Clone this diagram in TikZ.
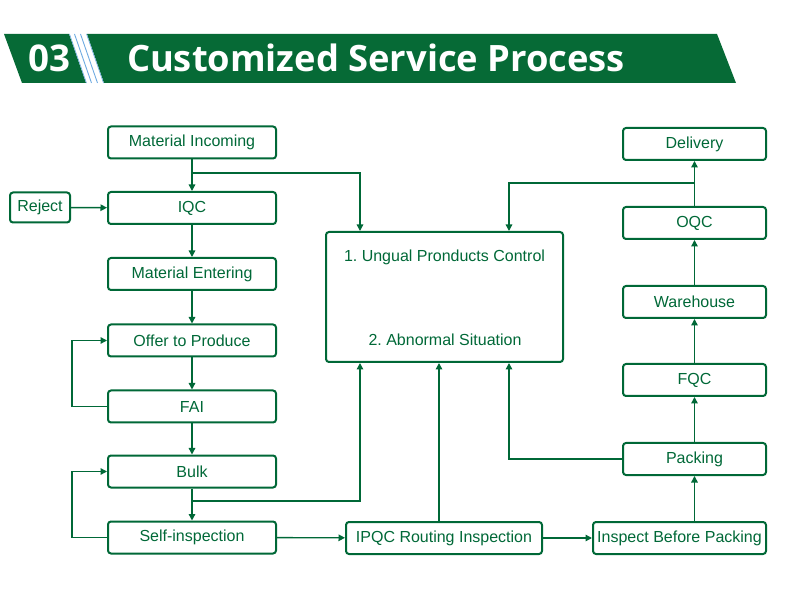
\documentclass[tikz,border=0pt]{standalone}
\usepackage{fontspec}
\setmainfont{Liberation Sans}
\newfontfamily\titlefont{Open Sans}
\usetikzlibrary{arrows.meta,calc}
\definecolor{dg}{RGB}{0,104,55}
\definecolor{bg}{RGB}{6,106,54}
\definecolor{lb}{RGB}{110,170,225}
\tikzset{
  box/.style={draw=dg, line width=2pt, rounded corners=3pt, inner sep=0pt, text=dg,
    font=\fontsize{16}{19}\selectfont\frenchspacing, minimum height=32pt},
  lbox/.style={box, minimum width=168pt},
  rbox/.style={box, minimum width=143pt},
  ln/.style={draw=dg, line width=1.4pt},
  arr/.style={ln, -{Triangle[length=6.5pt,width=6.5pt]}},
}
\begin{document}
\begin{tikzpicture}[x=1pt,y=-1pt]
\useasboundingbox (0,0) rectangle (790,609);
% banner
\fill[bg] (4,34) -- (69,34) -- (86,83) -- (22,83) -- cycle;
\fill[bg] (87,34) -- (717,34) -- (736,83) -- (104,83) -- cycle;
\draw[lb, line width=0.9pt] (74.5,34) -- (91.5,83);
\draw[lb, line width=0.9pt] (80.5,34) -- (97.5,83);
\draw[lb, line width=0.6pt] (69.5,34) -- (86.5,83);
\draw[lb, line width=0.6pt] (86.5,34) -- (103.5,83);
\node[text=white, inner sep=0pt] (num) at (49,58)
  {\resizebox{42pt}{!}{\titlefont\bfseries\fontsize{29}{34}\selectfont 03}};
\node[text=white, inner sep=0pt] (title) at (376,58)
  {\resizebox{498pt}{!}{\titlefont\bfseries\fontsize{29}{34}\selectfont Customized Service Process}};
% left column
\node[lbox] (mi) at (192,142.5) {Material Incoming};
\node[lbox] (iqc) at (192,208) {IQC};
\node[box, minimum width=60pt, minimum height=30pt] (rej) at (40,207.5) {Reject};
\node[lbox] (me) at (192,274) {Material Entering};
\node[lbox] (off) at (192,340.5) {Offer to Produce};
\node[lbox] (fai) at (192,406.5) {FAI};
\node[lbox] (bulk) at (192,471.5) {Bulk};
\node[lbox] (self) at (192,537.5) {Self-inspection};
% center
\node[box, minimum width=237pt, minimum height=130pt] (big) at (444.5,297) {};
\node[text=dg, font=\fontsize{16}{19}\selectfont\frenchspacing] (t1) at (444.5,257) {1. Ungual Pronducts Control};
\node[text=dg, font=\fontsize{16}{19}\selectfont\frenchspacing] (t2) at (445,340) {2. Abnormal Situation};
\node[box, minimum width=196pt] (ipqc) at (444,538) {IPQC Routing Inspection};
% right column
\node[rbox] (del) at (694.5,144) {Delivery};
\node[rbox] (oqc) at (694.5,223) {OQC};
\node[rbox] (wh) at (694.5,302) {Warehouse};
\node[rbox] (fqc) at (694.5,380) {FQC};
\node[rbox] (pack) at (694.5,459) {Packing};
\node[box, minimum width=173pt] (ibp) at (679.5,538) {Inspect Before Packing};
% connectors left
\draw[arr] (mi) -- (iqc);
\coordinate (j1) at (192,173);
\coordinate (k1) at (360,173);
\draw[arr] (j1) -- (k1) -- (k1 |- big.north);
\draw[arr] (rej) -- (iqc);
\draw[arr] (iqc) -- (me);
\draw[arr] (me) -- (off);
\draw[arr] (off) -- (fai);
\draw[arr] (fai.west) -- ++(-35,0) |- (off.west);
\draw[arr] (fai) -- (bulk);
\draw[arr] (bulk) -- (self);
\coordinate (j2) at (192,501);
\coordinate (k2) at (360,501);
\draw[arr] (j2) -- (k2) -- (k2 |- big.south);
\draw[arr] (self.west) -- ++(-35,0) |- (bulk.west);
\draw[arr] (self) -- (ipqc);
% center / right
\coordinate (k3) at (439,538);
\draw[arr] (k3 |- ipqc.north) -- (k3 |- big.south);
\draw[arr] (ipqc) -- (ibp);
\draw[arr] (ibp.north -| pack) -- (pack);
\coordinate (k4) at (509,459);
\draw[arr] (pack.west) -- (k4) -- (k4 |- big.south);
\draw[arr] (pack) -- (fqc);
\draw[arr] (fqc) -- (wh);
\draw[arr] (wh) -- (oqc);
\draw[arr] (oqc) -- (del);
\coordinate (j5) at (694.5,183);
\coordinate (k5) at (509,183);
\draw[arr] (j5) -- (k5) -- (k5 |- big.north);
\end{tikzpicture}
\end{document}
